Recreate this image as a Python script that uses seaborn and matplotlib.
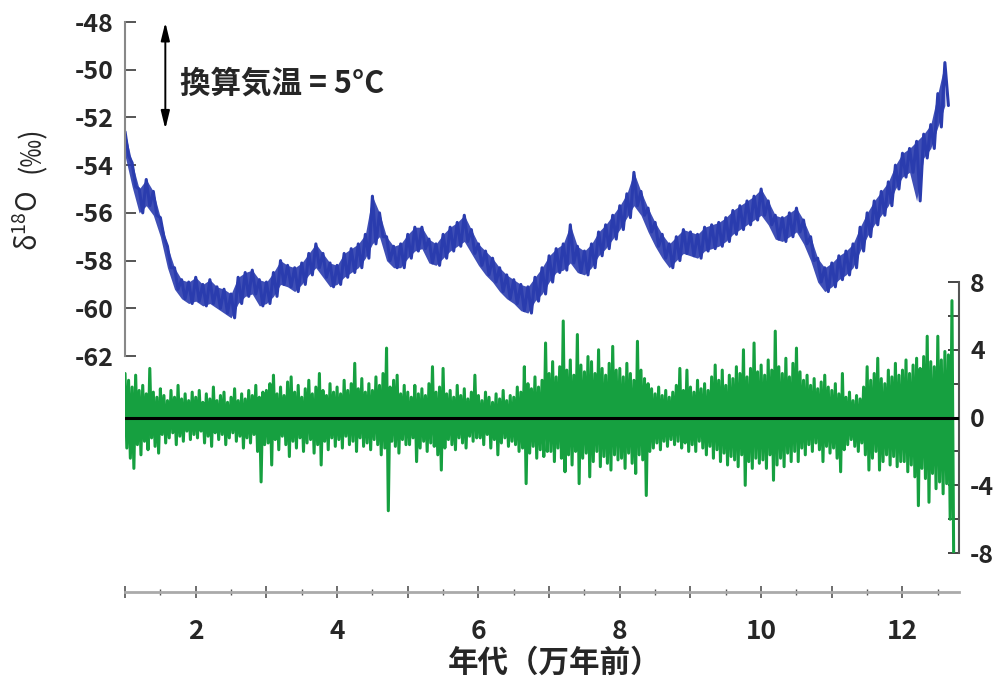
import numpy as np
import pandas as pd
import matplotlib
matplotlib.use("Agg")
import matplotlib.pyplot as plt
from matplotlib.ticker import MultipleLocator, FuncFormatter
import seaborn as sns

# --- blue series: d18O, upper/lower edge of the noisy trace, 0.1 step from 1.0 to 12.6 (10^4 yr BP)
blue_start, blue_step = 1.0, 0.1
blue_hi = [
    -52.6, -53.9, -55.0, -54.6, -55.1, -56.2, -57.4, -58.3, -58.8, -58.9,
    -58.7, -59.0, -58.8, -59.1, -59.2, -59.4, -58.7, -58.5, -58.4, -58.8,
    -58.9, -58.5, -58.0, -58.2, -58.3, -58.1, -57.7, -57.3, -57.7, -58.1,
    -58.2, -57.7, -57.5, -57.3, -56.9, -55.3, -56.0, -57.0, -57.4, -57.3,
    -56.9, -56.6, -56.6, -57.1, -57.3, -56.9, -56.6, -56.4, -56.1, -56.7,
    -57.3, -57.6, -57.9, -58.3, -58.6, -58.8, -59.0, -59.1, -58.7, -58.3,
    -57.8, -57.5, -57.3, -56.5, -57.4, -57.6, -57.3, -56.8, -56.5, -56.1,
    -55.7, -55.2, -54.3, -55.1, -55.8, -56.4, -56.9, -57.3, -57.0, -56.7,
    -56.8, -56.9, -56.6, -56.5, -56.4, -56.2, -55.9, -55.7, -55.5, -55.3,
    -55.0, -55.5, -56.1, -56.2, -56.0, -55.8, -56.3, -57.0, -57.9, -58.3,
    -58.1, -57.8, -57.6, -57.3, -56.6, -56.0, -55.5, -55.1, -54.7, -54.0,
    -53.5, -53.3, -53.0, -52.7, -52.3, -51.0, -49.7,
]
blue_lo = [
    -53.6, -54.9, -56.0, -55.7, -56.1, -57.0, -58.3, -59.2, -59.6, -59.8,
    -59.7, -59.9, -59.8, -60.0, -60.2, -60.4, -59.8, -59.5, -59.4, -59.9,
    -59.8, -59.5, -59.0, -59.1, -59.3, -59.0, -58.6, -58.3, -58.7, -59.1,
    -59.0, -58.7, -58.5, -58.3, -57.9, -57.3, -57.0, -58.0, -58.3, -58.3,
    -57.9, -57.6, -57.5, -58.1, -58.2, -57.9, -57.6, -57.4, -57.2, -57.7,
    -58.2, -58.6, -58.9, -59.3, -59.6, -59.8, -60.1, -60.2, -59.7, -59.4,
    -58.9, -58.5, -58.4, -58.1, -58.5, -58.6, -58.3, -57.8, -57.5, -57.1,
    -56.7, -56.2, -55.7, -56.1, -56.8, -57.4, -57.9, -58.3, -58.0, -57.7,
    -57.8, -57.9, -57.6, -57.5, -57.4, -57.2, -56.9, -56.7, -56.5, -56.3,
    -56.1, -56.5, -57.1, -57.2, -57.0, -56.8, -57.3, -58.0, -58.9, -59.3,
    -59.1, -58.8, -58.6, -58.3, -57.6, -57.0, -56.5, -56.1, -55.7, -55.0,
    -54.5, -54.3, -55.5, -53.7, -53.3, -52.4, -51.5,
]

# --- green series: residual (right axis), spike tops / bottoms, 0.05 step from 1.0 to 12.7
green_start, green_step = 1.0, 0.05
green_up = [
    2.6, 2.2, 1.8, 2.5, 1.6, 1.9, 1.4, 2.9, 1.5, 1.2, 1.7, 1.3, 1.0, 1.6, 1.2, 1.9, 1.1, 1.4, 1.0, 1.5,
    1.2, 1.6, 0.9, 1.4, 1.1, 1.8, 1.0, 1.3, 1.5, 0.9, 1.2, 1.7, 1.0, 1.4, 1.1, 1.6, 1.3, 1.9, 1.2, 1.5,
    1.6, 2.0, 2.5, 1.4, 1.8, 1.3, 2.1, 2.4, 1.5, 1.9, 1.2, 1.7, 2.2, 1.4, 1.8, 2.6, 1.6, 1.3, 2.0, 1.5,
    1.8, 1.4, 2.2, 1.6, 2.0, 3.2, 1.7, 2.3, 1.5, 2.0, 1.6, 2.4, 1.9, 2.6, 4.1, 1.8, 2.2, 2.5, 1.4, 1.9,
    1.5, 1.2, 1.9, 1.4, 1.7, 1.3, 2.0, 3.0, 1.5, 1.8, 2.9, 1.4, 1.6, 1.2, 1.9, 1.3, 1.7, 1.1, 1.5, 2.5,
    1.3, 1.0, 1.5, 1.2, 0.9, 1.4, 1.1, 1.6, 1.0, 1.3, 1.2, 1.8, 1.5, 3.0, 2.0, 1.7, 2.4, 1.8, 2.2, 4.4,
    2.6, 3.3, 2.4, 3.0, 5.7, 2.8, 3.4, 2.5, 4.9, 3.1, 2.7, 3.6, 3.3, 2.6, 4.0, 2.9, 2.5, 3.2, 4.2, 2.8,
    2.9, 2.4, 3.2, 2.6, 2.2, 4.5, 2.8, 2.3, 2.0, 1.7, 1.4, 1.8, 1.3, 1.6, 1.2, 1.5, 1.9, 2.9, 1.6, 2.8,
    1.8, 1.5, 2.2, 1.7, 2.0, 1.6, 2.4, 3.1, 2.2, 2.8, 1.9, 2.5, 2.3, 3.0, 2.6, 4.0, 2.4, 2.9, 4.4, 2.7,
    3.1, 2.5, 3.4, 2.8, 5.1, 3.0, 2.6, 3.5, 2.4, 3.2, 4.1, 2.7, 2.2, 2.5, 1.9, 2.3, 1.7, 2.1, 2.5, 1.8,
    1.6, 2.0, 1.4, 2.6, 1.2, 1.5, 1.0, 1.3, 1.1, 1.8, 3.0, 2.2, 2.6, 3.5, 2.3, 2.0, 2.8, 2.4, 3.2, 2.5,
    2.8, 3.4, 2.6, 3.1, 3.5, 2.9, 3.6, 4.8, 3.3, 3.0, 4.8, 3.4, 3.9, 3.7, 6.9,
]
green_dn = [
    -1.8, -2.4, -3.0, -1.6, -2.2, -1.4, -1.9, -1.2, -1.7, -2.1, -1.0, -1.5, -1.2, -0.9, -1.6, -1.1, -1.4, -0.8, -1.3, -1.0,
    -1.2, -0.8, -1.5, -1.1, -1.7, -0.9, -1.3, -1.0, -1.6, -1.2, -0.9, -1.4, -1.1, -1.8, -1.2, -1.5, -1.0, -2.0, -3.8, -1.6,
    -1.5, -2.8, -1.3, -1.9, -1.1, -1.6, -2.3, -1.4, -1.8, -1.2, -2.0, -1.5, -1.3, -2.1, -1.6, -2.8, -1.4, -1.9, -1.2, -1.7,
    -1.3, -1.8, -1.1, -1.6, -1.4, -2.0, -1.2, -1.7, -1.5, -1.9, -1.3, -1.6, -2.2, -1.8, -5.5, -1.4, -1.7, -2.1, -1.3, -1.6,
    -1.6, -1.2, -2.6, -1.8, -1.4, -2.0, -1.5, -1.7, -2.2, -3.1, -1.8, -1.3, -1.6, -1.9, -1.2, -1.5, -1.8, -1.1, -1.4, -1.2,
    -1.2, -1.6, -1.0, -1.8, -1.3, -2.2, -1.5, -1.2, -1.7, -1.4, -1.6, -2.0, -1.8, -3.9, -2.1, -1.7, -2.4, -1.9, -2.3, -2.0,
    -2.0, -2.6, -1.8, -2.4, -3.2, -2.2, -2.8, -2.0, -3.9, -2.4, -2.1, -3.5, -2.6, -2.0, -2.9, -2.3, -2.7, -3.1, -2.2, -2.5,
    -2.4, -3.0, -2.1, -2.7, -3.3, -2.2, -2.5, -4.6, -2.0, -1.8, -1.5, -1.9, -1.4, -1.7, -1.3, -1.6, -1.4, -1.8, -1.5, -2.0,
    -1.6, -2.0, -1.4, -1.8, -2.2, -1.7, -2.4, -1.9, -2.6, -2.1, -2.8, -2.3, -2.5, -2.9, -2.2, -4.0, -2.6, -3.0, -2.4, -2.7,
    -2.5, -3.0, -2.2, -3.7, -2.8, -2.4, -2.9, -2.1, -2.6, -2.0, -2.6, -1.8, -2.2, -1.6, -2.0, -1.5, -1.9, -2.6, -1.7, -2.1,
    -1.8, -2.4, -3.2, -1.9, -1.6, -1.3, -1.7, -2.0, -1.5, -2.2, -3.1, -2.4, -2.0, -3.1, -2.6, -2.2, -2.8, -2.3, -2.9, -2.6,
    -2.6, -3.2, -2.8, -3.5, -5.2, -3.0, -3.6, -5.0, -3.3, -4.2, -3.8, -4.5, -3.9, -6.0, -8.7,
]

left_ticks = [-62, -60, -58, -56, -54, -52, -50, -48]
right_ticks = [-8, -4, 0, 4, 8]
x_labels = [2, 4, 6, 8, 10, 12]

# interleave the edges into one zig-zag trace
def zigzag(start, step, top, bottom):
    age = start + step * np.arange(len(top))
    x = np.empty(2 * len(top))
    y = np.empty(2 * len(top))
    x[0::2], x[1::2] = age, age + step / 2
    y[0::2], y[1::2] = top, bottom
    return pd.DataFrame({"age": x, "val": y})

blue_df = zigzag(blue_start, blue_step, blue_hi, blue_lo)
green_df = zigzag(green_start, green_step, green_up, green_dn)
blue_age = blue_start + blue_step * np.arange(len(blue_hi))

sns.set_theme(style="white")
plt.rcParams["font.family"] = ["Noto Sans CJK JP", "DejaVu Sans"]
plt.rcParams["axes.unicode_minus"] = False

fig = plt.figure(figsize=(10.06, 6.82), dpi=100)
L, W = 0.1243, 0.829
ax2 = fig.add_axes([L, 0.189, W, 0.3975])
ax1 = fig.add_axes([L, 0.478, W, 0.4897])
ax1.patch.set_alpha(0)

# green residuals
sns.lineplot(data=green_df, x="age", y="val", ax=ax2, color="#16a040",
             lw=2.2, estimator=None, sort=False)
ax2.axhline(0, color="black", lw=2.2, zorder=5)
ax2.set_xlim(1, 12.8)
ax2.set_ylim(-8, 8)
for s in ["top", "left"]:
    ax2.spines[s].set_visible(False)
ax2.spines["right"].set_color("#555555")
ax2.spines["right"].set_linewidth(1.5)
ax2.spines["bottom"].set_position(("outward", 28))
ax2.spines["bottom"].set_color("#aaaaaa")
ax2.spines["bottom"].set_linewidth(2)
ax2.yaxis.tick_right()
ax2.set_yticks(right_ticks)
ax2.yaxis.set_minor_locator(MultipleLocator(2))
ax2.tick_params(axis="y", which="both", direction="in", length=8, width=1.4,
                color="#444444", labelsize=18, pad=8, left=False, right=True)
ax2.set_xticks(range(1, 13))
ax2.xaxis.set_major_formatter(FuncFormatter(lambda v, p: f"{int(v)}" if int(v) in x_labels else ""))
ax2.xaxis.set_minor_locator(MultipleLocator(0.5))
ax2.tick_params(axis="x", which="major", direction="inout", length=9, width=1.2,
                color="#555555", labelsize=19, pad=14, bottom=True)
ax2.tick_params(axis="x", which="minor", direction="inout", length=5, width=1.0,
                color="#555555", bottom=True)
ax2.set_xlabel("")
ax2.set_ylabel("")
for t in ax2.get_yticklabels() + ax2.get_xticklabels():
    t.set_fontweight("bold")

# blue d18O: band between the read edges, with the zig-zag trace on top
ax1.fill_between(blue_age, blue_lo, blue_hi, color="#2a3cae", alpha=0.9, lw=0)
sns.lineplot(data=blue_df, x="age", y="val", ax=ax1, color="#2a3cae",
             lw=2.2, estimator=None, sort=False)
ax1.set_xlim(1, 12.8)
ax1.set_ylim(-62, -48)
for s in ["top", "right", "bottom"]:
    ax1.spines[s].set_visible(False)
ax1.spines["left"].set_color("#888888")
ax1.spines["left"].set_linewidth(1.5)
ax1.set_yticks(left_ticks)
ax1.set_xticks([])
ax1.tick_params(axis="y", direction="in", length=8, width=1.4, color="#555555",
                labelsize=18, pad=8, left=True)
ax1.set_xlabel("")
ax1.set_ylabel("")
for t in ax1.get_yticklabels():
    t.set_fontweight("bold")

# 5 degC scale arrow
ax1.annotate("", xy=(1.57, -52.6), xytext=(1.57, -47.9),
             arrowprops=dict(arrowstyle="<|-|>,head_length=0.9,head_width=0.22",
                             color="black", lw=1.4))
ax1.text(1.78, -50.6, "換算気温 = 5°C", fontsize=22, fontweight="bold",
         va="center", ha="left")

fig.text(0.030, 0.676, "δ$^{\\mathregular{18}}$O", rotation=90, fontsize=20,
         ha="center", va="center")
fig.text(0.032, 0.781, "(‰)", rotation=90, fontsize=20,
         ha="center", va="center")
fig.text(0.551, 0.028, "年代（万年前）", fontsize=22, fontweight="bold",
         ha="center", va="center")

fig.savefig("out.png", dpi=100)
